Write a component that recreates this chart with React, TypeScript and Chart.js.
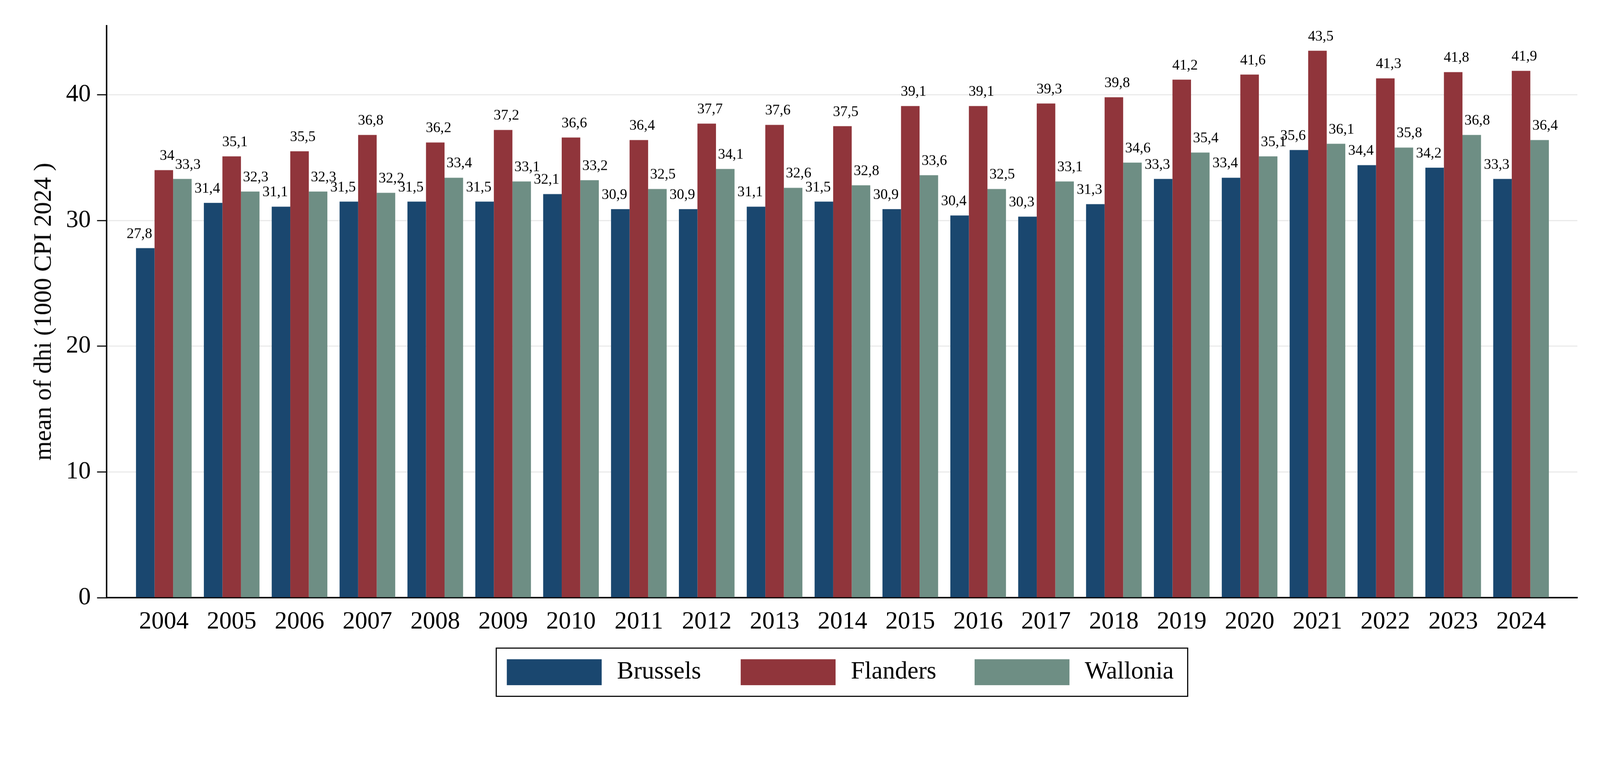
import React, { useEffect, useRef } from "react";
import { Chart, registerables } from "chart.js";

Chart.register(...registerables);

const years = [
  2004, 2005, 2006, 2007, 2008, 2009, 2010, 2011, 2012, 2013, 2014,
  2015, 2016, 2017, 2018, 2019, 2020, 2021, 2022, 2023, 2024,
];
const brussels = [
  27.8, 31.4, 31.1, 31.5, 31.5, 31.5, 32.1, 30.9, 30.9, 31.1, 31.5,
  30.9, 30.4, 30.3, 31.3, 33.3, 33.4, 35.6, 34.4, 34.2, 33.3,
];
const flanders = [
  34, 35.1, 35.5, 36.8, 36.2, 37.2, 36.6, 36.4, 37.7, 37.6, 37.5,
  39.1, 39.1, 39.3, 39.8, 41.2, 41.6, 43.5, 41.3, 41.8, 41.9,
];
const wallonia = [
  33.3, 32.3, 32.3, 32.2, 33.4, 33.1, 33.2, 32.5, 34.1, 32.6, 32.8,
  33.6, 32.5, 33.1, 34.6, 35.4, 35.1, 36.1, 35.8, 36.8, 36.4,
];
const seriesNames = ["Brussels", "Flanders", "Wallonia"];
const seriesColors = ["#1a476f", "#90353b", "#6e8e84"];
const yTicks = [0, 10, 20, 30, 40];
const yTitle = "mean of dhi (1000 CPI 2024 )";

const FONT = "'Liberation Serif', 'Times New Roman', serif";

// layout is designed on a 4385 x 1994 sheet, then scaled to the viewport
const DESIGN_W = 4385;
const DESIGN_H = 1994;

// Stata style value labels: decimal comma, no trailing ",0"
const fmt = (v: number) =>
  Number.isInteger(v) ? String(v) : v.toFixed(1).replace(".", ",");

const makeBarLabels = (k: number) => ({
  id: "barLabels",
  afterDatasetsDraw(chart: any) {
    const { ctx } = chart;
    const shift = [-16, 9, 15];
    ctx.save();
    ctx.font = `${40 * k}px ${FONT}`;
    ctx.fillStyle = "#000";
    ctx.textAlign = "center";
    ctx.textBaseline = "alphabetic";
    chart.data.datasets.forEach((ds: any, i: number) => {
      chart.getDatasetMeta(i).data.forEach((bar: any, j: number) => {
        ctx.fillText(fmt(ds.data[j]), bar.x + shift[i] * k, bar.y - 28 * k);
      });
    });
    ctx.restore();
  },
});

// legend in a black frame, centred under the plot region
const makeBoxedLegend = (k: number) => ({
  id: "boxedLegend",
  afterDraw(chart: any) {
    const { ctx, chartArea } = chart;
    const pitch = 641 * k;
    const sw = 260 * k;
    const sh = 71 * k;
    const w = 1895 * k;
    const h = 132 * k;
    const left = (chartArea.left + chartArea.right) / 2 - w / 2;
    const top = chartArea.bottom + 138 * k;
    ctx.save();
    ctx.strokeStyle = "#000";
    ctx.lineWidth = 3 * k;
    ctx.strokeRect(left, top, w, h);
    ctx.font = `${68 * k}px ${FONT}`;
    ctx.textBaseline = "middle";
    ctx.textAlign = "left";
    chart.data.datasets.forEach((ds: any, i: number) => {
      const x = left + 29 * k + i * pitch;
      const y = top + (h - sh) / 2;
      ctx.fillStyle = ds.backgroundColor;
      ctx.fillRect(x, y, sw, sh);
      ctx.fillStyle = "#000";
      ctx.fillText(ds.label, x + sw + 42 * k, y + sh / 2);
    });
    ctx.restore();
  },
});

const App = () => {
  const chartRef = useRef<HTMLCanvasElement | null>(null);
  const chartInstance = useRef<Chart | null>(null);

  const k = Math.min(window.innerWidth / DESIGN_W, window.innerHeight / DESIGN_H);

  useEffect(() => {
    document.body.style.margin = "0";
    document.body.style.overflow = "hidden";
    const ctx = chartRef.current!.getContext("2d")!;

    if (chartInstance.current) {
      chartInstance.current.destroy();
    }

    const bigFont = { family: FONT, size: 68 * k };

    chartInstance.current = new Chart(ctx, {
      type: "bar",
      data: {
        labels: years,
        datasets: [brussels, flanders, wallonia].map((d, i) => ({
          label: seriesNames[i],
          data: d,
          backgroundColor: seriesColors[i],
          borderWidth: 0,
        })),
      },
      options: {
        animation: false,
        responsive: true,
        maintainAspectRatio: false,
        layout: { padding: { left: 0, right: 62 * k, top: 70 * k, bottom: 0 } },
        datasets: {
          bar: { categoryPercentage: 0.82, barPercentage: 1 },
        },
        plugins: {
          legend: { display: false },
          tooltip: { enabled: false },
        },
        scales: {
          x: {
            type: "linear",
            offset: false,
            min: 2003.156,
            max: 2024.83,
            afterBuildTicks: (s: any) => {
              s.ticks = years.map((v) => ({ value: v }));
            },
            afterFit: (s: any) => {
              s.height = 357 * k;
            },
            grid: { display: false, drawTicks: false, offset: false },
            border: { display: true, color: "#000", width: 4 * k },
            ticks: {
              color: "#000",
              font: bigFont,
              padding: 26 * k,
              autoSkip: false,
              maxRotation: 0,
              callback: (v: any) => String(v),
            },
          },
          y: {
            min: 0,
            max: 45.5,
            afterBuildTicks: (s: any) => {
              s.ticks = yTicks.map((v) => ({ value: v }));
            },
            afterFit: (s: any) => {
              s.width = 292 * k;
            },
            grid: {
              color: (c: any) =>
                c.tick && c.tick.value === 0 ? "rgba(0,0,0,0)" : "#e8e8e8",
              lineWidth: 3 * k,
              tickLength: 26 * k,
              tickColor: "#000",
              tickWidth: 3 * k,
            },
            border: { display: true, color: "#000", width: 4 * k },
            ticks: {
              color: "#000",
              font: bigFont,
              padding: 17 * k,
            },
            title: {
              display: true,
              text: yTitle,
              color: "#000",
              font: bigFont,
              padding: { top: 81 * k, bottom: 0 },
            },
          },
        },
      },
      plugins: [makeBarLabels(k), makeBoxedLegend(k)],
    } as any);

    return () => {
      if (chartInstance.current) {
        chartInstance.current.destroy();
        chartInstance.current = null;
      }
    };
  }, [k]);

  return (
    <div style={{ position: "relative", width: `${DESIGN_W * k}px`, height: `${DESIGN_H * k}px` }}>
      <canvas ref={chartRef}></canvas>
    </div>
  );
};

export default App;
